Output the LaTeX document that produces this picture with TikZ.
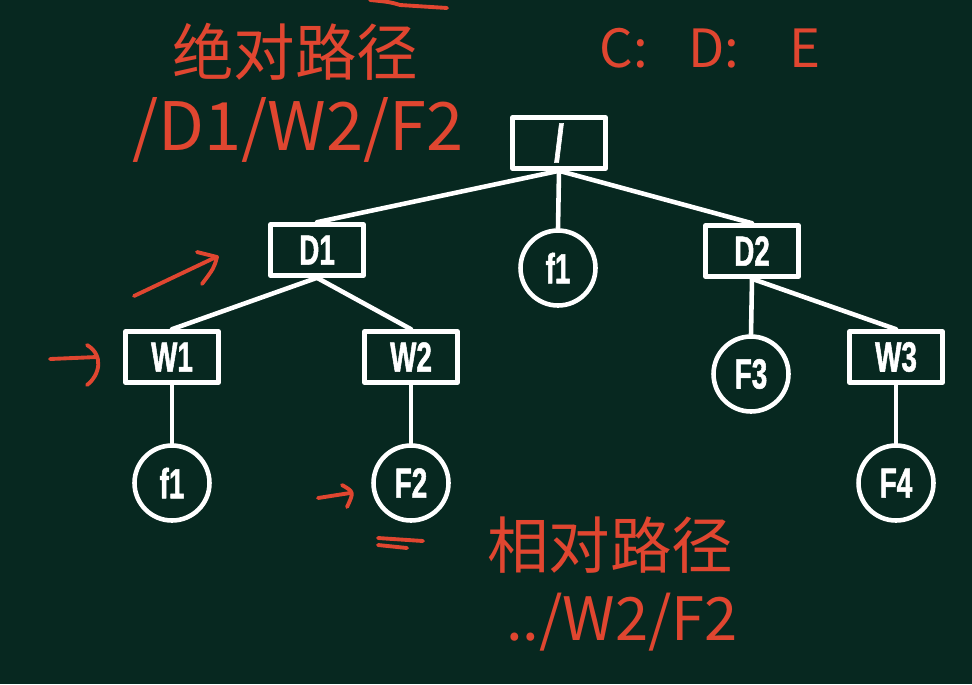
\documentclass[tikz,border=0pt]{standalone}
\usepackage{fontspec}
\setmainfont{Liberation Sans}
\newfontfamily\cjk{Noto Sans CJK SC}
\newfontfamily\narrowsans[FakeStretch=0.66, FakeBold=1.2]{Liberation Sans Bold}
\usetikzlibrary{arrows.meta}
\definecolor{board}{RGB}{7,40,32}
\definecolor{chalkred}{RGB}{224,70,48}

\begin{document}
\begin{tikzpicture}[x=0.02cm, y=-0.02cm, line cap=round, line join=round,
    dirbox/.style={rectangle, draw=white, line width=2.6pt, minimum width=1.86cm, minimum height=1.02cm, inner sep=0pt, text=white, font=\narrowsans\fontsize{24}{24}\selectfont},
    filenode/.style={circle, draw=white, line width=2.6pt, minimum size=1.5cm, inner sep=0pt, text=white, font=\narrowsans\fontsize{24}{24}\selectfont},
    branch/.style={draw=white, line width=2.6pt},
    chalk/.style={draw=chalkred, line width=2.2pt},
    note/.style={text=chalkred, inner sep=0pt, font=\cjk\fontsize{#1}{#1}\selectfont}]

    \fill[board] (0,0) rectangle (972,684);
    \useasboundingbox (0,0) rectangle (972,684);

    % Tree
    \node[dirbox, font=\narrowsans\fontsize{30}{30}\selectfont] (root) at (559,143) {/};
    \node[dirbox] (d1) at (317,250) {D1};
    \node[filenode] (f1a) at (558,268) {f1};
    \node[dirbox] (d2) at (752,251) {D2};
    \node[dirbox] (w1) at (172,357) {W1};
    \node[dirbox] (w2) at (411,357) {W2};
    \node[filenode] (f3) at (751,374) {F3};
    \node[dirbox] (w3) at (896,357) {W3};
    \node[filenode] (f1b) at (172,483) {f1};
    \node[filenode] (f2) at (411,483) {F2};
    \node[filenode] (f4) at (896,483) {F4};

    \draw[branch] (root.south) -- (d1.north);
    \draw[branch] (root.south) -- (f1a.north);
    \draw[branch] (root.south) -- (d2.north);
    \draw[branch] (d1.south) -- (w1.north);
    \draw[branch] (d1.south) -- (w2.north);
    \draw[branch] (d2.south) -- (f3.north);
    \draw[branch] (d2.south) -- (w3.north);
    \draw[branch] (w1.south) -- (f1b.north);
    \draw[branch] (w2.south) -- (f2.north);
    \draw[branch] (w3.south) -- (f4.north);

    % Notes
    \node[note=35] (abs) at (295,52) {绝对路径};
    \node[note=38] (abspath) at (298,130) {/D1/W2/F2};
    \node[note=30] (drives) at (710,48) {C:\hspace{0.8cm}D:\hspace{1cm}E};
    \node[note=35] (rel) at (610,545) {相对路径};
    \node[note=34] (relpath) at (622,622) {../W2/F2};

    % Chalk marks
    \draw[chalk] (370,0) .. controls (390,2) .. (400,5) -- (447,8);
    \draw[chalk] (134,296) -- (214,258);
    \draw[chalk] (197,252) -- (217,257) .. controls (214,268) .. (202,284);
    \draw[chalk] (50,359) -- (97,357);
    \draw[chalk] (87,345) .. controls (104,355) and (100,375) .. (87,385);
    \draw[chalk] (318,498) -- (350,493);
    \draw[chalk] (342,485) .. controls (354,492) .. (347,507);
    \draw[chalk] (378,538) -- (423,541);
    \draw[chalk] (378,545) -- (407,548);
\end{tikzpicture}
\end{document}
